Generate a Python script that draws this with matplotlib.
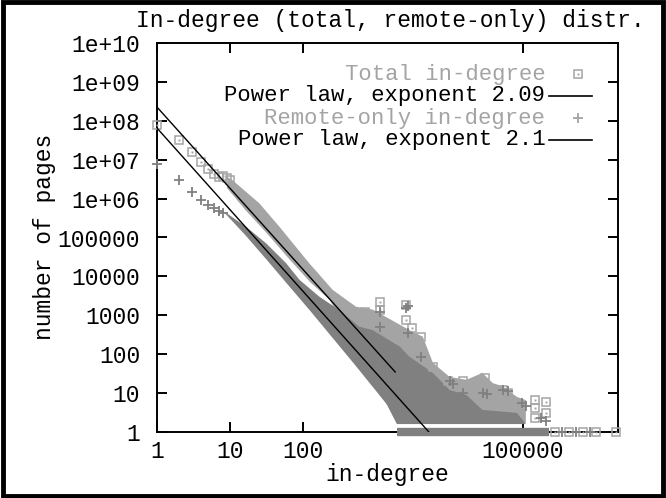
"""
In-degree distribution (total vs remote-only) on log-log axes, with the
two power-law fits, drawn in the look of an old gnuplot png.
"""

import matplotlib
matplotlib.use("Agg")
import matplotlib.pyplot as plt
from matplotlib.patches import Rectangle
from matplotlib.ticker import NullLocator

# ---------------------------------------------------------------- data --
# discrete low-degree points (one point per in-degree value)
total_deg = [1, 2, 3, 4, 5, 6, 7, 8, 9, 10]
total_cnt = [8.0e7, 3.2e7, 1.6e7, 8.7e6, 5.7e6, 4.3e6, 3.6e6, 3.7e6, 3.3e6, 3.0e6]
remote_deg = [1, 2, 3, 4, 5, 6, 7, 8]
remote_cnt = [7.8e6, 3.0e6, 1.5e6, 9.0e5, 6.8e5, 5.9e5, 4.9e5, 4.3e5]

# outline of the dense cloud of total in-degree points (upper edge, then back)
total_band_deg = [9.3, 10.7, 25, 47, 120, 252, 525, 890, 2800, 4300, 5900,
                  1.0e4, 1.7e4, 2.8e4, 3.9e4, 5.3e4, 8.3e4, 1.1e5, 1.1e5,
                  1900, 230, 126, 63, 32, 16, 9.0]
total_band_cnt = [3.5e6, 3.0e6, 7.6e5, 1.9e5, 2.2e4, 4.5e3, 1.66e3, 1.4e3, 420, 280, 60,
                  26, 22, 33, 18, 15, 8.0, 6.6, 1.7,
                  1.7, 2.5e3, 6.9e3, 2.9e4, 1.26e5, 5.2e5, 1.9e6]

# outline of the dense cloud of remote-only in-degree points
remote_band_deg = [8.5, 16.4, 31, 58, 89, 166, 310, 580, 880, 2100, 2800, 5900,
                   1.0e4, 1.7e4, 2.8e4, 8.3e4, 1.1e5,
                   1900, 1400, 1000, 500, 251, 126, 63, 32, 16, 8.7]
remote_band_cnt = [4.5e5, 1.9e5, 7.1e4, 2.2e4, 8.1e3, 3.0e3, 1.37e3, 510, 420, 155, 87, 33,
                   12, 8.9, 3.7, 3.1, 1.6,
                   1.6, 5.0, 11, 55, 263, 1.26e3, 5.8e3, 2.6e4, 1.17e5, 4.0e5]

# isolated points sticking out of the clouds
total_out_deg = [690, 720, 1100, 1100, 2560, 2560, 3100, 4100, 5900, 9400, 1.5e4,
                 3.0e4, 5.4e4, 6.2e4, 8.5e4, 1.45e5, 1.45e5, 1.45e5, 2.1e5, 2.1e5,
                 2.75e5, 4.3e5, 6.6e5, 1.0e6, 1.9e6]
total_out_cnt = [1240, 760, 2200, 1370, 1830, 760, 470, 280, 48, 20, 20,
                 24, 12, 10, 5.2, 6.6, 4.1, 2.25, 6.0, 3.0,
                 1, 1, 1, 1, 1]
remote_out_deg = [1100, 1100, 2560, 2700, 2700, 4100, 1.0e4, 1.1e4, 1.27e4, 1.5e4,
                  2.9e4, 3.2e4, 5.4e4, 6.2e4, 9.6e4, 1.1e5, 1.8e5, 2.1e5,
                  3.4e5, 5.3e5, 8.3e5]
remote_out_cnt = [1240, 510, 1500, 1700, 345, 87, 20, 17, 5.5, 9.9,
                  9.9, 9.5, 12, 11.5, 5.5, 4.7, 2.25, 1.9,
                  1, 1, 1]

# the run of degrees that have exactly one page
single_deg = [1900, 2.3e5]
single_cnt = [1, 1]

# power-law fits, end points as drawn
fit_total_deg = [1, 1800]
fit_total_cnt = [2.25e8, 35]
fit_remote_deg = [1, 5200]
fit_remote_cnt = [6.5e7, 1.0]

xtick_vals = [1, 10, 100, 1e5]
xtick_labels = ["1", "10", "100", "100000"]
ytick_vals = [10.0 ** k for k in range(11)]
ytick_labels = ["1", "10", "100", "1000", "10000", "100000",
                "1e+06", "1e+07", "1e+08", "1e+09", "1e+10"]

LIGHT = "#a4a4a4"
DARK = "#808080"
FONT = "Liberation Mono"
FS = 16.5
KEY_FS = 16


def boxed_points(ax, x, y, color, ms=6.0, **kw):
    """gnuplot point type 'box with a dot in the middle'."""
    ax.plot(x, y, ls="none", marker="s", ms=ms, mfc="none", mec=color, mew=1.1, **kw)
    ax.plot(x, y, ls="none", marker="s", ms=1.4, mfc=color, mec=color, mew=0, **kw)


def plus_points(ax, x, y, color, ms=7.0, **kw):
    ax.plot(x, y, ls="none", marker="+", ms=ms, mec=color, mew=1.3, **kw)


def main():
    plt.rcParams["font.family"] = [FONT, "DejaVu Sans Mono"]
    plt.rcParams["font.size"] = FS

    fig = plt.figure(figsize=(6.66, 4.98), dpi=100)
    ax = fig.add_axes([157 / 666, 1 - 432 / 498, 461 / 666, 389 / 498])
    ax.set_xscale("log")
    ax.set_yscale("log")
    ax.set_xlim(1, 2.0e6)
    ax.set_ylim(1, 1e10)

    # total in-degree
    ax.fill(total_band_deg, total_band_cnt, color=LIGHT, lw=0, zorder=2)
    boxed_points(ax, total_deg, total_cnt, LIGHT, zorder=2.8, clip_on=False)
    boxed_points(ax, total_out_deg, total_out_cnt, LIGHT, zorder=2.8, clip_on=False)

    # remote-only in-degree
    ax.fill(remote_band_deg, remote_band_cnt, color=DARK, lw=0, zorder=2.4)
    plus_points(ax, remote_deg, remote_cnt, DARK, zorder=2.9, clip_on=False)
    plus_points(ax, remote_out_deg, remote_out_cnt, DARK, zorder=2.9, clip_on=False)
    ax.plot(single_deg, single_cnt, color=DARK, lw=6, solid_capstyle="butt",
            zorder=3, clip_on=False)

    # power-law fits
    ax.plot(fit_total_deg, fit_total_cnt, color="black", lw=1.0, zorder=5)
    ax.plot(fit_remote_deg, fit_remote_cnt, color="black", lw=1.0, zorder=5)

    ax.set_xticks(xtick_vals)
    ax.set_xticklabels(xtick_labels)
    ax.set_yticks(ytick_vals)
    ax.set_yticklabels(ytick_labels)
    ax.xaxis.set_minor_locator(NullLocator())
    ax.yaxis.set_minor_locator(NullLocator())
    ax.tick_params(axis="both", direction="in", length=7.5, width=1.4,
                   top=True, right=True, labelsize=FS)
    ax.tick_params(axis="x", pad=5.5)
    ax.tick_params(axis="y", pad=12)
    for sp in ax.spines.values():
        sp.set_linewidth(1.4)

    # key, gnuplot style: right-justified text followed by the sample
    entries = [("Total in-degree", LIGHT, "box"),
               ("Power law, exponent 2.09", "black", "line"),
               ("Remote-only in-degree", LIGHT, "plus"),
               ("Power law, exponent 2.1", "black", "line")]
    rows = [0.920, 0.864, 0.807, 0.751]
    for (label, color, kind), yr in zip(entries, rows):
        ax.text(0.842, yr, label, transform=ax.transAxes, ha="right", va="center",
                color=color, fontsize=KEY_FS)
        if kind == "line":
            ax.plot([0.851, 0.944], [yr, yr], transform=ax.transAxes,
                    color="black", lw=1.2, clip_on=False)
        elif kind == "box":
            boxed_points(ax, [0.913], [yr], LIGHT, transform=ax.transAxes)
        else:
            plus_points(ax, [0.913], [yr], LIGHT, transform=ax.transAxes)

    fig.text(390 / 666, 1 - 20 / 498, "In-degree (total, remote-only) distr.",
             ha="center", va="center", fontsize=FS)
    fig.text(387 / 666, 1 - 474 / 498, "in-degree", ha="center", va="center", fontsize=FS)
    fig.text(45 / 666, 1 - 237 / 498, "number of pages", ha="center", va="center",
             rotation=90, fontsize=FS)

    fig.patches.append(Rectangle((0.004, 0.004), 0.992, 0.992, transform=fig.transFigure,
                                 fill=False, ec="black", lw=3.5))

    fig.savefig("out.png", dpi=100)


if __name__ == "__main__":
    main()
